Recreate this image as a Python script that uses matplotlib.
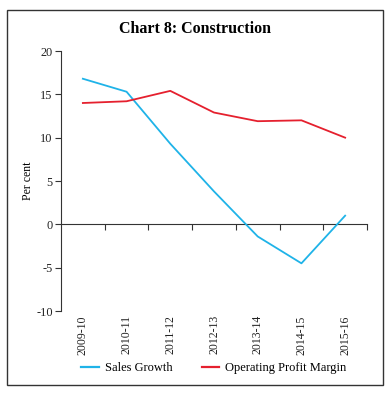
import matplotlib
matplotlib.use("Agg")
import matplotlib.pyplot as plt
from matplotlib.patches import Rectangle
from matplotlib.lines import Line2D

categories = ["2009-10", "2010-11", "2011-12", "2012-13", "2013-14", "2014-15", "2015-16"]
sales_growth = [16.8, 15.3, 9.3, 3.8, -1.4, -4.5, 1.0]
operating_profit_margin = [14.0, 14.2, 15.4, 12.9, 11.9, 12.0, 10.0]
y_ticks = [-10, -5, 0, 5, 10, 15, 20]

plt.rcParams['font.family'] = ['Liberation Serif', 'DejaVu Serif']

BLUE = "#1FB3E8"
RED = "#E5202E"

fig = plt.figure(figsize=(3.92, 3.96), dpi=100)
fig.patches.append(Rectangle((7/392, 1-385/396), 376/392, 375/396, transform=fig.transFigure,
                             fill=False, edgecolor="#333333", linewidth=1.0))

ax = fig.add_axes([61/392, 1-311/396, 306/392, 260/396])
x = list(range(len(categories)))
ax.plot(x, sales_growth, color=BLUE, linewidth=1.3)
ax.plot(x, operating_profit_margin, color=RED, linewidth=1.3)

ax.set_xlim(-0.5, len(categories) - 0.5)
ax.set_ylim(-10, 20)
ax.set_yticks(y_ticks)
ax.set_yticklabels([str(v) for v in y_ticks], fontsize=8.8, color="#222222")
ax.set_xticks(x)
ax.set_xticklabels(categories, rotation=90, fontsize=8.5, color="#222222")
ax.tick_params(axis='x', length=0, pad=3)
ax.tick_params(axis='y', length=4, width=0.8, color="#333333", pad=2)
for s in ["top", "right", "bottom"]:
    ax.spines[s].set_visible(False)
ax.spines["left"].set_color("#333333")
ax.spines["left"].set_linewidth(0.8)
ax.set_ylabel("Per cent", fontsize=8.5, labelpad=1.5)

sec = ax.secondary_xaxis(1/3)
sec.set_xticks([i + 0.5 for i in x])
sec.tick_params(axis='x', length=4, width=0.8, color="#333333", labelbottom=False, direction='out')
sec.spines["bottom"].set_color("#333333")
sec.spines["bottom"].set_linewidth(0.8)

fig.text(195/392, 1-29/396, "Chart 8: Construction", ha="center", va="center",
         fontsize=11.5, fontweight="bold")

handles = [Line2D([], [], color=BLUE, linewidth=1.6), Line2D([], [], color=RED, linewidth=1.6)]
fig.legend(handles, ["Sales Growth", "Operating Profit Margin"], loc="center",
           bbox_to_anchor=(214/392, 1-368/396), ncol=2, frameon=False, fontsize=9,
           handlelength=1.4, handletextpad=0.5, columnspacing=2.3)

fig.savefig("out.png", dpi=100)
